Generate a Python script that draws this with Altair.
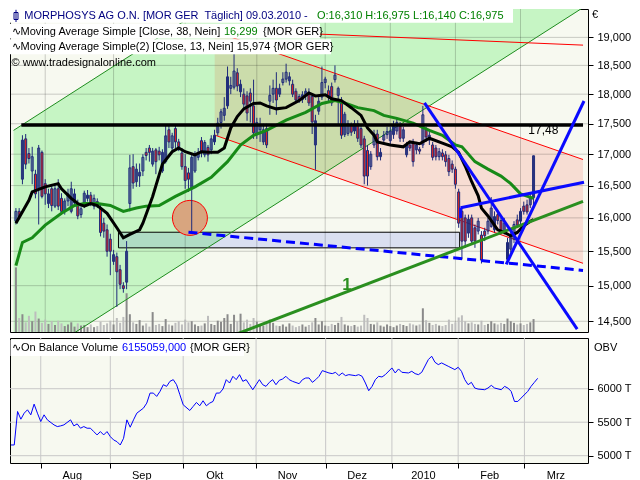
import altair as alt
import pandas as pd

# ---------------- data (trading-day index k, prices in EUR) ----------------
opens = [15.95,16.10,16.60,17.25,17.01,16.73,16.68,16.45,17.03,16.53,
16.22,16.45,16.18,16.45,16.30,16.10,16.26,16.10,16.23,16.22,
16.05,16.20,16.30,16.35,16.18,16.25,16.15,15.92,15.82,15.68,
15.35,15.42,15.23,15.00,15.05,16.22,16.80,16.56,16.65,16.73,
17.03,17.10,16.84,17.07,17.05,16.73,16.88,17.40,17.10,17.42,
17.20,17.02,16.80,16.70,16.45,16.73,16.95,17.22,16.99,17.11,
17.07,17.20,17.35,17.52,17.64,17.80,18.10,18.12,18.37,18.04,
18.00,17.97,18.02,17.80,17.32,17.40,17.20,17.42,17.88,18.00,
18.10,18.00,18.20,18.26,18.23,18.17,18.05,17.96,17.91,17.99,
18.03,17.96,17.15,17.71,17.95,18.20,18.06,18.13,18.25,17.98,
17.88,17.32,17.34,17.48,17.38,17.50,17.42,17.25,17.06,16.80,
17.15,17.33,16.96,17.23,17.32,17.22,17.32,17.38,17.46,17.26,
16.99,17.15,17.18,17.07,17.08,17.15,17.40,17.23,17.15,17.10,
16.96,17.02,16.99,16.93,16.84,16.76,16.40,16.10,16.00,15.77,
16.00,15.85,15.80,15.74,15.80,15.80,15.87,15.82,16.05,15.96,
15.80,15.38,15.53,15.68,15.97,15.95,16.18,16.20,16.20,16.31]
highs = [16.15,16.15,17.31,17.33,17.10,17.12,16.75,17.15,17.06,16.60,
16.45,16.50,16.52,16.60,16.38,16.30,16.45,16.56,16.45,16.28,
16.20,16.42,16.43,16.40,16.36,16.30,16.20,16.00,15.90,15.76,
15.52,15.48,15.30,15.05,15.65,16.99,17.00,16.85,16.85,17.00,
17.10,17.15,17.10,17.10,17.12,17.08,17.48,17.48,17.35,17.48,
17.25,17.10,17.00,16.78,17.00,17.05,17.10,17.28,17.23,17.15,
17.31,17.40,17.60,17.75,17.95,18.48,18.30,18.70,18.45,18.25,
18.10,18.05,18.10,18.25,17.60,17.60,17.50,17.50,18.15,18.25,
18.38,18.18,18.38,18.53,18.38,18.25,18.10,18.00,18.05,18.10,
18.10,18.00,17.65,17.95,18.48,18.30,18.15,18.20,18.50,18.13,
17.95,17.70,17.56,17.52,17.56,17.56,17.48,17.30,17.15,17.05,
17.40,17.40,17.10,17.38,17.45,17.45,17.55,17.60,17.53,17.45,
17.20,17.20,17.25,17.20,17.12,17.80,17.45,17.38,17.20,17.15,
17.10,17.08,17.05,16.99,16.90,16.80,16.45,16.15,16.05,16.05,
16.05,15.90,16.00,15.80,15.85,16.00,16.32,16.10,16.10,16.00,
16.00,15.70,15.80,15.95,16.05,16.15,16.25,16.28,16.38,16.975]
lows = [15.90,15.98,16.52,16.76,16.85,16.52,16.30,15.90,16.30,16.20,
16.15,16.10,16.15,16.12,16.05,16.05,16.18,16.07,16.18,15.98,
16.00,16.15,16.25,16.18,16.13,16.15,15.72,15.70,15.42,15.15,
15.30,14.70,14.95,14.90,14.95,16.10,16.45,16.48,16.48,16.65,
16.90,16.88,16.80,16.68,16.90,16.70,16.85,17.10,17.02,17.10,
17.05,16.75,16.45,16.40,15.80,16.70,16.90,16.95,16.95,16.88,
17.00,17.15,17.30,17.42,17.55,17.75,18.00,18.08,18.05,17.95,
17.75,17.55,17.52,17.25,17.25,17.20,17.15,17.10,17.65,17.85,
17.65,17.95,18.15,18.20,18.15,17.95,17.85,17.85,17.85,17.90,
17.80,17.33,16.75,17.65,17.90,18.10,17.88,17.80,18.20,17.48,
17.25,17.28,17.30,17.30,17.33,17.20,17.10,16.52,16.50,16.75,
17.10,16.90,16.90,17.20,17.25,17.15,17.25,17.32,17.20,17.20,
16.95,17.05,16.80,17.00,17.00,17.10,17.20,17.15,16.90,16.90,
16.90,16.90,16.80,16.65,16.70,16.45,15.85,15.38,15.55,15.70,
15.60,15.55,15.75,15.32,15.65,15.75,15.85,15.78,15.90,15.75,
15.75,15.34,15.48,15.62,15.85,15.90,16.05,16.05,16.15,16.14]
closes = [16.10,16.02,17.23,16.84,16.93,16.96,16.37,17.10,16.33,16.37,
16.37,16.19,16.45,16.18,16.10,16.26,16.37,16.45,16.37,16.03,
16.14,16.38,16.35,16.22,16.30,16.20,15.78,15.80,15.50,15.50,
15.45,15.20,15.02,14.96,15.50,16.78,16.54,16.76,16.71,16.95,
16.98,17.03,17.05,16.88,16.99,17.03,17.30,17.20,17.30,17.20,
17.12,16.80,16.58,16.60,16.95,16.99,17.03,17.03,17.19,16.99,
17.25,17.31,17.51,17.70,17.76,18.30,18.15,18.40,18.14,18.17,
17.83,17.68,17.88,17.35,17.52,17.48,17.40,17.15,17.98,18.10,
17.90,18.10,18.26,18.38,18.30,18.00,17.90,17.91,17.99,18.05,
17.85,17.53,17.55,17.88,18.20,18.26,17.95,17.85,18.33,18.10,
17.31,17.66,17.50,17.36,17.50,17.26,17.15,16.65,16.65,17.00,
17.33,16.96,17.03,17.31,17.37,17.38,17.46,17.52,17.26,17.40,
17.15,17.10,16.88,17.15,17.05,17.65,17.28,17.31,16.95,16.96,
17.04,16.96,16.88,16.72,16.76,16.52,15.92,15.65,15.65,15.98,
15.65,15.65,15.95,15.37,15.73,15.95,16.15,16.02,15.96,15.81,
15.92,15.63,15.73,15.90,15.89,16.10,16.10,16.09,16.32,16.975]
volumes = [1200,260,330,180,300,200,380,250,170,
230,150,200,130,210,160,110,140,180,100,160,120,
130,90,140,90,110,190,130,160,210,140,260,170,280,
720,
330,180,150,220,120,160,100,370,130,150,110,240,140,120,170,200,
140,230,180,200,140,110,120,160,300,150,130,210,190,260,330,150,320,200,340,180,
230,150,260,190,140,120,150,230,170,120,110,140,100,160,120,90,110,140,100,130,
180,260,140,200,120,110,150,130,170,280,140,120,110,130,100,120,320,260,150,140,
180,120,100,140,110,90,120,150,130,110,160,140,120,140,440,220,170,130,150,120,
110,130,230,150,180,270,310,200,160,180,150,140,210,130,150,200,160,140,170,150,
250,200,170,140,160,130,150,180,240]

ma38_k = [0,2,5,9,14,18,21,25,29,33,37,40,44,49,55,60,65,69,73,77,83,89,94,98,
          101,105,110,113,117,122,127,131,135,137,141,145,149,152,155,159]
ma38_v = [15.29,15.63,15.70,15.89,16.07,16.19,16.22,16.22,16.19,16.10,16.15,16.18,
          16.19,16.33,16.48,16.63,16.88,17.15,17.31,17.39,17.56,17.69,17.84,17.89,
          17.85,17.77,17.72,17.64,17.59,17.51,17.39,17.31,17.15,17.12,16.88,16.76,
          16.65,16.53,16.37,16.299]
ma13_k = [0,4,5,9,13,14,17,19,21,23,25,28,31,33,35,38,39,42,45,48,50,52,55,57,59,
          62,64,66,68,70,73,75,77,80,83,87,90,92,95,97,100,103,106,108,110,111,
          115,119,121,124,127,131,134,136,138,140,142,143,145,148,150,152,154,
          156,158,159]
ma13_v = [15.92,16.27,16.40,16.48,16.53,16.45,16.30,16.22,16.18,16.22,16.19,16.07,
          15.85,15.70,15.75,15.82,15.92,16.33,16.84,17.04,17.10,17.04,16.99,17.04,
          17.03,17.03,17.10,17.43,17.62,17.75,17.84,17.85,17.80,17.75,17.77,17.89,
          18.02,17.97,17.99,17.92,17.89,17.77,17.64,17.43,17.31,17.20,17.15,17.12,
          17.20,17.17,17.26,17.18,17.12,17.03,16.81,16.56,16.34,16.15,16.03,15.82,
          15.78,15.73,15.78,15.88,15.95,15.974]

obv_k = [0,1,2,3,4,5,6,7,8,9,
         10,11,13,14,15,16,18,19,20,21,
         22,23,24,25,26,27,28,29,30,31,
         32,33,34,35,36,37,38,40,41,42,
         43,44,45,46,47,48,49,50,51,52,
         54,55,56,57,58,59,60,61,62,63,
         64,65,66,67,68,69,70,71,72,73,
         74,75,76,77,78,79,80,81,82,83,
         84,85,87,88,89,90,91,92,93,94,
         96,97,98,99,100,101,102,104,105,106,
         107,108,109,110,111,112,113,115,116,117,
         118,120,121,122,123,124,126,127,128,129,
         130,132,134,135,136,137,138,139,140,141,
         143,144,145,146,148,149,150,151,152,153,
         154,156,157,158,159]
obv_v = [5160,5160,5660,5545,5635,5685,5610,5770,5635,5510,
         5610,5535,5460,5435,5445,5460,5535,5445,5475,5410,
         5435,5410,5410,5360,5310,5360,5310,5360,5285,5235,
         5210,5160,5260,5535,5425,5535,5635,5710,5785,5935,
         5935,5885,5960,6060,6035,6110,6135,6060,5910,5760,
         5675,5735,5795,5745,5820,5745,5785,5810,5935,5935,
         5995,6135,6085,6185,6135,6210,6110,6135,6060,5985,
         6060,6135,6060,6035,6095,6135,6060,6125,6145,6185,
         6135,6110,6075,6135,6160,6160,6095,6135,6185,6270,
         6235,6225,6245,6195,6235,6195,6210,6195,6210,6185,
         6085,5970,6035,6135,6185,6175,6210,6310,6235,6295,
         6245,6235,6260,6225,6210,6245,6435,6485,6395,6360,
         6385,6335,6285,6320,6260,6135,6060,6095,6010,5995,
         5985,6010,6050,6010,5985,6035,6010,5960,5810,5810,
         5860,5960,6035,6095,6155]

month_k = [9, 30, 52, 74, 95, 115, 135, 155]
month_lbl = ["Aug", "Sep", "Okt", "Nov", "Dez", "2010", "Feb", "Mrz"]
price_ticks = [14.5, 15.0, 15.5, 16.0, 16.5, 17.0, 17.5, 18.0, 18.5, 19.0]
obv_ticks = [5000, 5500, 6000]

# drawing tools (k, price)
green_chan_k = [-0.73, 174.2]
green_chan_lo = [13.82, 19.546]
green_chan_hi = [17.39, 24.61]
pink_chan_k = [61.06, 174.2]
pink_chan_lo = [17.312, 15.323]
pink_chan_hi = [19.107, 16.914]
overlap_k = [61.06, 94.73, 127.0]
overlap_lo = [17.312, 16.693, 17.797]
overlap_hi = [19.107, 18.426, 17.797]
top_red_k = [88.8, 174.2]
top_red_p = [19.07, 18.86]
box_k = [31.5, 136.3]
box_p = [15.55, 15.783]
circle_k, circle_p = 53.45, 16.0
dash_k = [53.0, 174.2]
dash_p = [15.783, 15.22]
trend1_k = [67.9, 174.2]
trend1_p = [14.327, 16.255]
blue_id = ["a", "a", "b", "b", "c", "c", "d", "d"]
blue_k = [125.5, 172.4, 150.6, 174.5, 136.6, 174.5, 136.6, 136.6]
blue_p = [17.85, 14.393, 15.306, 17.883, 16.156, 16.553, 16.156, 15.999]
hline_p = 17.48
hline_k = [1.66, 174.2]

# ---------------- layout ----------------
W, HM, HO = 578, 323, 125
FONT = "Liberation Sans"
NAVY = "#1f2a7a"

xs = alt.Scale(domain=[-0.28, 174.19], nice=False, zero=False)
ys = alt.Scale(type="log", domain=[14.353, 19.52], nice=False)


def xq(f):
    return alt.X(f, type="quantitative", scale=xs, axis=None)


def yp(f):
    return alt.Y(f, type="quantitative", scale=ys, axis=None)


def px(f):
    return alt.X(f, type="quantitative", scale=None, axis=None)


def py(f):
    return alt.Y(f, type="quantitative", scale=None, axis=None)


cdf = pd.DataFrame(dict(k=list(range(len(closes))), o=opens, h=highs, l=lows, c=closes, v=volumes))
cdf["dir"] = ["up" if c >= o else "down" for o, c in zip(opens, closes)]

L_pink = alt.Chart(pd.DataFrame(dict(k=pink_chan_k, lo=pink_chan_lo, hi=pink_chan_hi))).mark_area(
    color="#f7ddd3", clip=True).encode(x=xq("k"), y=yp("lo"), y2="hi")
L_green = alt.Chart(pd.DataFrame(dict(k=green_chan_k, lo=green_chan_lo, hi=green_chan_hi))).mark_area(
    color="#c6f5c4", clip=True).encode(x=xq("k"), y=yp("lo"), y2="hi")
L_olive = alt.Chart(pd.DataFrame(dict(k=overlap_k, lo=overlap_lo, hi=overlap_hi))).mark_area(
    color="#cbdcab").encode(x=xq("k"), y=yp("lo"), y2="hi")
L_gridh = alt.Chart(pd.DataFrame(dict(p=price_ticks))).mark_rule(
    color="#cfcfcf", strokeWidth=1, blend="multiply").encode(y=yp("p"))
L_gridv = alt.Chart(pd.DataFrame(dict(k=month_k))).mark_rule(
    color="#cfcfcf", strokeWidth=1, blend="multiply").encode(x=xq("k"))
L_box = alt.Chart(pd.DataFrame(dict(k0=[box_k[0]], k1=[box_k[1]], p0=[box_p[0]], p1=[box_p[1]]))).mark_rect(
    fill="#e1e5ff", blend="multiply", stroke="black", strokeWidth=1).encode(
    x=xq("k0"), x2="k1", y=yp("p0"), y2="p1")
L_vol = alt.Chart(cdf).mark_bar(size=2).encode(
    x=xq("k"),
    y=alt.Y("v:Q", scale=alt.Scale(domain=[0, 6000], nice=False), axis=None),
    color=alt.Color("dir:N", scale=alt.Scale(domain=["up", "down"], range=["#8a8a8a", "#bdbdbd"]), legend=None))
L_circle = alt.Chart(pd.DataFrame(dict(k=[circle_k], p=[circle_p]))).mark_circle(
    size=1225, color="#d8a57f", opacity=1, stroke="#ff0000", strokeWidth=1).encode(x=xq("k"), y=yp("p"))

edge_df = pd.DataFrame(dict(id=["lo", "lo", "hi", "hi"], k=green_chan_k * 2,
                            p=green_chan_lo + green_chan_hi))
L_gedge = alt.Chart(edge_df).mark_line(color="#1e8c1e", strokeWidth=1, clip=True).encode(
    x=xq("k"), y=yp("p"), detail="id:N")
red_df = pd.DataFrame(dict(id=["u", "u", "l", "l", "t", "t"],
                           k=pink_chan_k + pink_chan_k + top_red_k,
                           p=pink_chan_hi + pink_chan_lo + top_red_p))
L_red = alt.Chart(red_df).mark_line(color="#ff0000", strokeWidth=1, clip=True).encode(
    x=xq("k"), y=yp("p"), detail="id:N")

price_axis = alt.Axis(orient="right", values=price_ticks,
                      labelExpr="replace(format(datum.value, '.3f'), '.', ',')",
                      tickSize=5, domain=False, grid=False, title=None, labelPadding=4,
                      labelOverlap=False, labelFont=FONT, labelFontSize=11, labelColor="black",
                      tickColor="black")
L_wick = alt.Chart(cdf).mark_rule(color=NAVY, strokeWidth=1).encode(
    x=xq("k"), y=alt.Y("l:Q", scale=ys, axis=price_axis), y2="h")
L_up = alt.Chart(cdf).transform_filter("datum.c >= datum.o").mark_bar(
    size=2, color=NAVY, fillOpacity=0, stroke=NAVY, strokeWidth=1).encode(x=xq("k"), y=yp("o"), y2="c")
L_dn = alt.Chart(cdf).transform_filter("datum.c < datum.o").mark_bar(
    size=2, color="#e8281e", stroke=NAVY, strokeWidth=1).encode(x=xq("k"), y=yp("o"), y2="c")

L_ma38 = alt.Chart(pd.DataFrame(dict(k=ma38_k, v=ma38_v))).mark_line(
    color="#178a17", strokeWidth=3).encode(x=xq("k"), y=yp("v"))
L_ma13 = alt.Chart(pd.DataFrame(dict(k=ma13_k, v=ma13_v))).mark_line(
    color="black", strokeWidth=3).encode(x=xq("k"), y=yp("v"))
L_hline = alt.Chart(pd.DataFrame(dict(k0=[hline_k[0]], k1=[hline_k[1]], p=[hline_p]))).mark_rule(
    color="black", strokeWidth=3.5).encode(x=xq("k0"), x2="k1", y=yp("p"))
L_dash = alt.Chart(pd.DataFrame(dict(k=dash_k, p=dash_p))).mark_line(
    color="#0000ff", strokeWidth=3, strokeDash=[9, 5], clip=True).encode(x=xq("k"), y=yp("p"))
L_trend1 = alt.Chart(pd.DataFrame(dict(k=trend1_k, p=trend1_p))).mark_line(
    color="#2a8f1f", strokeWidth=3, clip=True).encode(x=xq("k"), y=yp("p"))
L_blue = alt.Chart(pd.DataFrame(dict(id=blue_id, k=blue_k, p=blue_p))).mark_line(
    color="#0a0aff", strokeWidth=3, clip=True).encode(x=xq("k"), y=yp("p"), detail="id:N")
L_lbl = alt.Chart(pd.DataFrame(dict(k=[162.0], p=[17.39], t=["17,48"]))).mark_text(
    font=FONT, fontSize=12, color="black").encode(x=xq("k"), y=yp("p"), text="t:N")
L_one = alt.Chart(pd.DataFrame(dict(k=[101.7], p=[15.01], t=["1"]))).mark_text(
    font=FONT, fontSize=17, fontWeight="bold", color="#2a8f1f").encode(x=xq("k"), y=yp("p"), text="t:N")

# legend (pixel positions inside the panel)
leg_boxes = pd.DataFrame(dict(x0=[0, 0, 0], x1=[503, 310, 321], y0=[0, 14.7, 30.3], y1=[13.7, 29.6, 45.2]))
L_legbox = alt.Chart(leg_boxes).mark_rect(color="white").encode(x=px("x0"), x2="x1", y=py("y0"), y2="y1")
icon = pd.DataFrame(dict(x0=[4.0], x1=[8.0], y0=[3.5], y1=[10.5]))
L_icon_r = alt.Chart(icon).mark_rect(fill="white", stroke="#000080", strokeWidth=1).encode(
    x=px("x0"), x2="x1", y=py("y0"), y2="y1")
L_icon_w = alt.Chart(pd.DataFrame(dict(x=[6.0], y0=[0.8], y1=[13.0]))).mark_rule(
    color="#000080", strokeWidth=1).encode(x=px("x"), y=py("y0"), y2="y1")
leg_txt = pd.DataFrame(dict(
    t=["MORPHOSYS AG O.N. [MOR GER\u00a0 Täglich] 09.03.2010 -", "O:16,310 H:16,975 L:16,140 C:16,975",
       "∿Moving Average Simple [Close, 38, Nein]", "16,299", "{MOR GER}",
       "∿Moving Average Simple(2) [Close, 13, Nein] 15,974 {MOR GER}",
       "© www.tradesignalonline.com", "€"],
    x=[14.3, 307.0, 1.5, 214.0, 253.0, 1.5, 1.5, 582.0],
    y=[7.0, 7.0, 22.5, 22.5, 22.5, 38.2, 53.8, 5.5],
    col=["#000080", "#008000", "black", "#008000", "black", "black", "black", "black"]))
L_legtxt = alt.Chart(leg_txt).mark_text(font=FONT, fontSize=11, align="left", baseline="middle").encode(
    x=px("x"), y=py("y"), text="t:N", color=alt.Color("col:N", scale=None))

main = alt.layer(
    L_pink, L_green, L_olive, L_gridh, L_gridv, L_box, L_vol, L_circle, L_gedge, L_red,
    L_wick, L_up, L_dn, L_ma38, L_ma13, L_hline, L_dash, L_trend1, L_blue, L_lbl, L_one,
    L_legbox, L_icon_r, L_icon_w, L_legtxt
).resolve_scale(y="independent").properties(width=W, height=HM)

# ---------------- OBV panel ----------------
obv_scale = alt.Scale(domain=[4891, 6757], nice=False, zero=False)
month_expr = " : ".join(f"datum.value == {k} ? '{m}'" for k, m in zip(month_k, month_lbl)) + " : ''"
x_axis = alt.Axis(values=month_k, labelExpr=month_expr, labelOffset=31, tickSize=5, domain=False,
                  grid=False, title=None, labelFlush=False, labelOverlap=False, labelPadding=1,
                  labelFont=FONT, labelFontSize=11, labelColor="black", tickColor="black")
obv_axis = alt.Axis(orient="right", values=obv_ticks, labelExpr="datum.value + ' T'", tickSize=5,
                    domain=False, grid=False, title=None, labelPadding=4, labelFont=FONT,
                    labelFontSize=11, labelColor="black", tickColor="black")

O_gridh = alt.Chart(pd.DataFrame(dict(ov=obv_ticks))).mark_rule(color="#c8c8c8").encode(
    y=alt.Y("ov:Q", scale=obv_scale, axis=None))
O_gridv = alt.Chart(pd.DataFrame(dict(k=month_k))).mark_rule(color="#c8c8c8").encode(x=xq("k"))
O_line = alt.Chart(pd.DataFrame(dict(k=obv_k, ov=obv_v))).mark_line(color="#0000ff", strokeWidth=1).encode(
    x=alt.X("k:Q", scale=xs, axis=x_axis), y=alt.Y("ov:Q", scale=obv_scale, axis=obv_axis))
O_box = alt.Chart(pd.DataFrame(dict(x0=[0.5], x1=[234.0], y0=[2.0], y1=[18.0]))).mark_rect(color="white").encode(
    x=px("x0"), x2="x1", y=py("y0"), y2="y1")
obv_txt = pd.DataFrame(dict(
    t=["∿On Balance Volume", "6155059,000", "{MOR GER}", "OBV"],
    x=[2.0, 112.0, 180.0, 584.0], y=[9.5, 9.5, 9.5, 9.5],
    col=["black", "#0000ff", "black", "black"]))
O_txt = alt.Chart(obv_txt).mark_text(font=FONT, fontSize=11, align="left", baseline="middle").encode(
    x=px("x"), y=py("y"), text="t:N", color=alt.Color("col:N", scale=None))

obv = alt.layer(O_gridh, O_gridv, O_line, O_box, O_txt).resolve_scale(
    x="independent", y="independent").properties(width=W, height=HO)

chart = alt.vconcat(main, obv, spacing=4).properties(
    padding={"left": 0, "top": 0, "right": 0, "bottom": 0}, background="white"
).configure_view(stroke="black", strokeWidth=1, fill="#f7f9f0")

chart.save("out.html", embed_options={"renderer": "svg", "actions": False})
